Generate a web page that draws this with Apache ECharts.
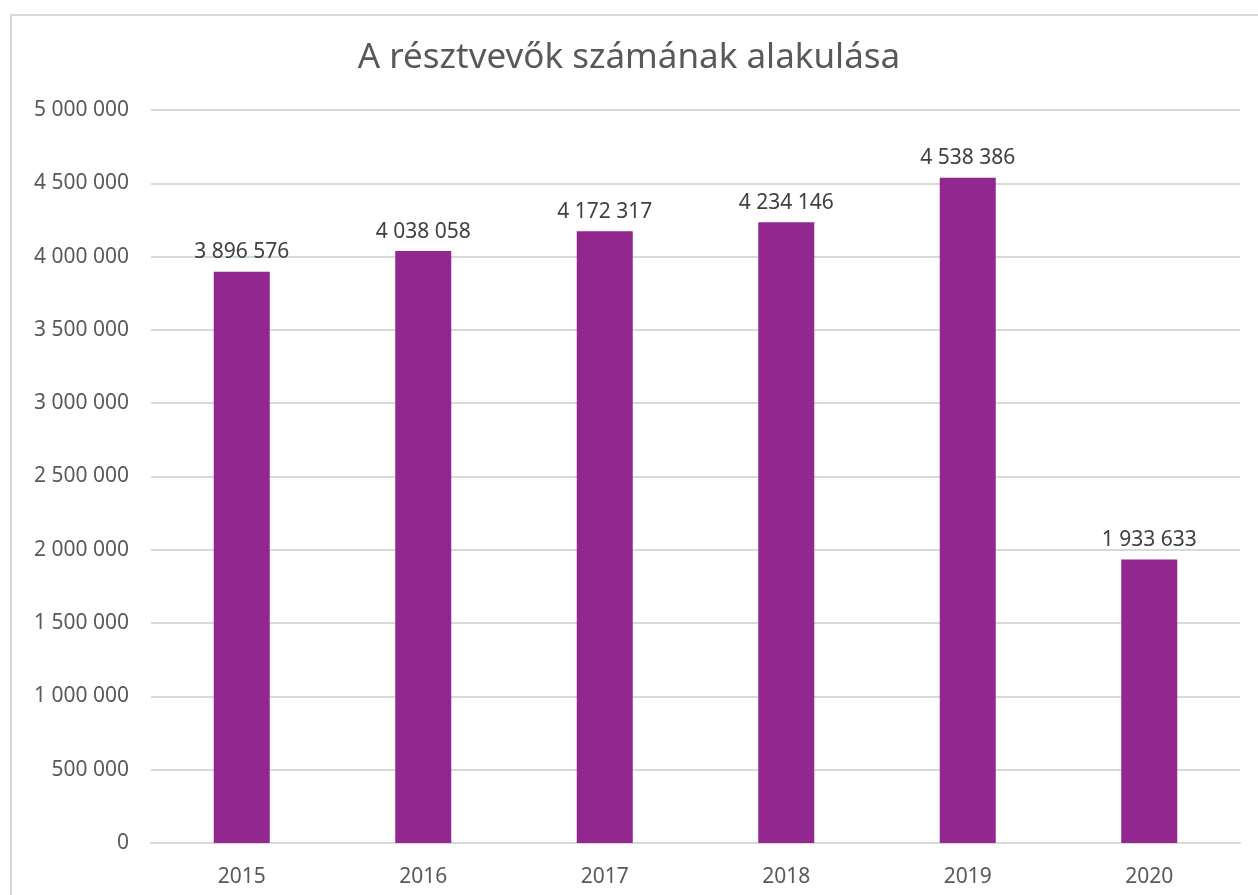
<!DOCTYPE html>
<html>
<head>
<meta charset="utf-8">
<script src="https://cdn.jsdelivr.net/npm/echarts@6/dist/echarts.min.js"></script>
<style>
  html, body { margin: 0; padding: 0; background: #fff; }
  #frame {
    position: absolute; left: 10px; top: 14px; width: 1260px; height: 900px;
    border: 2px solid #d9d9d9; box-sizing: border-box;
  }
  #chart { position: absolute; left: 0; top: 0; width: 1258px; height: 895px; }
</style>
</head>
<body>
<div id="frame"></div>
<div id="chart"></div>
<script>
const years = ["2015", "2016", "2017", "2018", "2019", "2020"];
const participants = [3896576, 4038058, 4172317, 4234146, 4538386, 1933633];

const fmt = value => String(value).replace(/\B(?=(\d{3})+(?!\d))/g, " ");
const font = "'Noto Sans', 'Open Sans', sans-serif";

const chart = echarts.init(document.getElementById("chart"), null, { renderer: "canvas" });
chart.setOption({
    backgroundColor: "transparent",
    animation: false,
    title: {
        text: "A résztvevők számának alakulása",
        left: "center",
        top: 36,
        textStyle: { color: "#595959", fontSize: 35, fontWeight: "normal", fontFamily: font }
    },
    grid: { left: 151, right: 18, top: 110, bottom: 52, containLabel: false },
    xAxis: {
        type: "category",
        data: years,
        axisTick: { show: false },
        axisLine: { lineStyle: { color: "#d9d9d9", width: 2 } },
        axisLabel: { color: "#595959", fontSize: 21, fontFamily: font, margin: 24 }
    },
    yAxis: {
        type: "value",
        min: 0,
        max: 5000000,
        interval: 500000,
        axisLine: { show: false },
        axisTick: { show: false },
        axisLabel: { color: "#595959", fontSize: 21, fontFamily: font, margin: 22, formatter: fmt },
        splitLine: { lineStyle: { color: "#d9d9d9", width: 2 } }
    },
    series: [
        {
            type: "bar",
            data: participants,
            barWidth: 56,
            itemStyle: { color: "#92278f" },
            label: {
                show: true,
                position: "top",
                distance: 9,
                color: "#404040",
                fontSize: 21,
                fontFamily: font,
                formatter: ({ value }) => fmt(value)
            }
        }
    ]
});
</script>
</body>
</html>
